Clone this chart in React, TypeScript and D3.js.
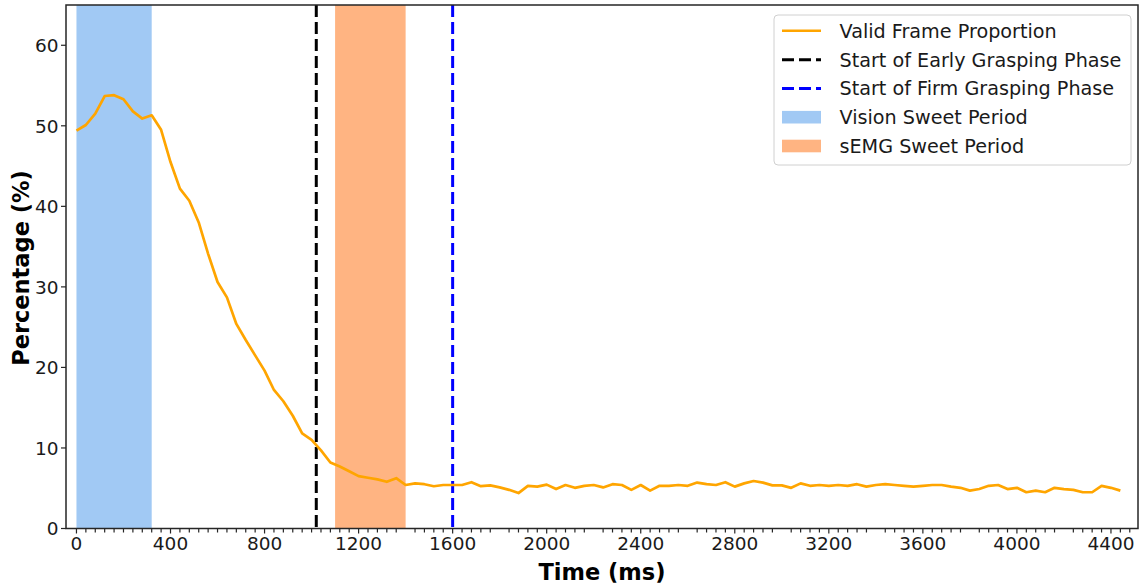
import React from "react";
import * as d3 from "d3";

const timesMs = [
  0, 40, 80, 120, 160, 200, 240, 280, 320, 360,
  400, 440, 480, 520, 560, 600, 640, 680, 720, 760,
  800, 840, 880, 920, 960, 1000, 1040, 1080, 1120, 1160,
  1200, 1240, 1280, 1320, 1360, 1400, 1440, 1480, 1520, 1560,
  1600, 1640, 1680, 1720, 1760, 1800, 1840, 1880, 1920, 1960,
  2000, 2040, 2080, 2120, 2160, 2200, 2240, 2280, 2320, 2360,
  2400, 2440, 2480, 2520, 2560, 2600, 2640, 2680, 2720, 2760,
  2800, 2840, 2880, 2920, 2960, 3000, 3040, 3080, 3120, 3160,
  3200, 3240, 3280, 3320, 3360, 3400, 3440, 3480, 3520, 3560,
  3600, 3640, 3680, 3720, 3760, 3800, 3840, 3880, 3920, 3960,
  4000, 4040, 4080, 4120, 4160, 4200, 4240, 4280, 4320, 4360,
  4400, 4440,
];

const validFrameProportion = [
  49.4, 50.1, 51.5, 53.7, 53.8, 53.3, 51.8, 50.9, 51.3, 49.5,
  45.5, 42.2, 40.7, 38.0, 34.1, 30.6, 28.7, 25.4, 23.4, 21.5,
  19.6, 17.2, 15.8, 14.0, 11.8, 11.0, 9.7, 8.2, 7.7, 7.1,
  6.5, 6.3, 6.1, 5.8, 6.25, 5.4, 5.6, 5.5, 5.25, 5.4,
  5.4, 5.4, 5.75, 5.25, 5.35, 5.1, 4.8, 4.4, 5.3, 5.2,
  5.45, 4.9, 5.4, 5.05, 5.3, 5.4, 5.1, 5.5, 5.4, 4.8,
  5.4, 4.7, 5.3, 5.3, 5.4, 5.3, 5.7, 5.5, 5.4, 5.75,
  5.2, 5.6, 5.9, 5.7, 5.35, 5.35, 5.05, 5.6, 5.3, 5.4,
  5.3, 5.4, 5.3, 5.5, 5.2, 5.4, 5.5, 5.4, 5.3, 5.2,
  5.3, 5.4, 5.4, 5.2, 5.05, 4.7, 4.9, 5.3, 5.4, 4.9,
  5.05, 4.5, 4.7, 4.5, 5.05, 4.9, 4.8, 4.5, 4.5, 5.3,
  5.05, 4.7,
];

const visionSweetPeriod = [0, 320];
const semgSweetPeriod = [1100, 1400];
const earlyGraspStart = 1020;
const firmGraspStart = 1600;

const xMajorTicks = [0, 400, 800, 1200, 1600, 2000, 2400, 2800, 3200, 3600, 4000, 4400];
const xMinorTicks = [
  40, 80, 120, 160, 200, 240, 280, 320, 360,
  440, 480, 520, 560, 600, 640, 680, 720, 760,
  840, 880, 920, 960, 1000, 1040, 1080, 1120, 1160,
  1240, 1280, 1320, 1360, 1440, 1480, 1520, 1560,
  1640, 1680, 1720, 1760, 1840, 1880, 1920, 1960,
  2040, 2080, 2120, 2160, 2240, 2280, 2320, 2360,
  2440, 2480, 2520, 2560, 2640, 2680, 2720, 2760,
  2840, 2880, 2920, 2960, 3040, 3080, 3120, 3160,
  3240, 3280, 3320, 3360, 3440, 3480, 3520, 3560,
  3640, 3680, 3720, 3760, 3840, 3880, 3920, 3960,
  4040, 4080, 4120, 4160, 4240, 4280, 4320, 4360,
  4440, 4480,
];
const yTicks = [0, 10, 20, 30, 40, 50, 60];

const legendItems = [
  { label: "Valid Frame Proportion", kind: "line", color: "#FFA500", dash: "" },
  { label: "Start of Early Grasping Phase", kind: "line", color: "#000000", dash: "12,5" },
  { label: "Start of Firm Grasping Phase", kind: "line", color: "#0000FF", dash: "12,5" },
  { label: "Vision Sweet Period", kind: "patch", color: "#a1c9f4", dash: "" },
  { label: "sEMG Sweet Period", kind: "patch", color: "#ffb482", dash: "" },
];

const W = 1143;
const H = 586;
const LEFT = 66;
const RIGHT = 1138;
const TOP = 5;
const BOTTOM = 528.5;
const FONT = "DejaVu Sans, sans-serif";

export default function App() {
  const x = d3.scaleLinear().domain([-44.5, 4515]).range([LEFT, RIGHT]);
  const y = d3.scaleLinear().domain([0, 65]).range([BOTTOM, TOP]);
  const pts: [number, number][] = timesMs.map((t, i) => [t, validFrameProportion[i]]);
  const line = d3
    .line<[number, number]>()
    .x((d) => x(d[0]))
    .y((d) => y(d[1]));

  const legX = 774;
  const legY = 15;
  const legW = 357;
  const legH = 150;
  const rowY = [30.7, 59.7, 88.4, 117.2, 146];

  return (
    <svg
      width={W}
      height={H}
      style={{ position: "absolute", left: 0, top: 0, background: "#fff" }}
      fontFamily={FONT}
    >
      <defs>
        <clipPath id="plotclip">
          <rect x={LEFT} y={TOP} width={RIGHT - LEFT} height={BOTTOM - TOP} />
        </clipPath>
      </defs>
      <rect x={0} y={0} width={W} height={H} fill="#fff" />
      <g clipPath="url(#plotclip)">
        <rect
          x={x(visionSweetPeriod[0])}
          y={TOP}
          width={x(visionSweetPeriod[1]) - x(visionSweetPeriod[0])}
          height={BOTTOM - TOP}
          fill="#a1c9f4"
        />
        <rect
          x={x(semgSweetPeriod[0])}
          y={TOP}
          width={x(semgSweetPeriod[1]) - x(semgSweetPeriod[0])}
          height={BOTTOM - TOP}
          fill="#ffb482"
        />
        <line
          x1={x(earlyGraspStart)}
          x2={x(earlyGraspStart)}
          y1={TOP}
          y2={BOTTOM}
          stroke="#000"
          strokeWidth={3}
          strokeDasharray="12,5"
        />
        <line
          x1={x(firmGraspStart)}
          x2={x(firmGraspStart)}
          y1={TOP}
          y2={BOTTOM}
          stroke="#0000FF"
          strokeWidth={3}
          strokeDasharray="12,5"
        />
        <path
          d={line(pts) || ""}
          fill="none"
          stroke="#FFA500"
          strokeWidth={2.7}
          strokeLinejoin="round"
        />
      </g>

      {/* frame */}
      <rect
        x={LEFT}
        y={TOP}
        width={RIGHT - LEFT}
        height={BOTTOM - TOP}
        fill="none"
        stroke="#262626"
        strokeWidth={1.5}
      />

      {/* x ticks */}
      {xMinorTicks.map((t) => (
        <line key={"mn" + t} x1={x(t)} x2={x(t)} y1={BOTTOM} y2={BOTTOM + 4} stroke="#262626" strokeWidth={1.2} />
      ))}
      {xMajorTicks.map((t) => (
        <g key={"mj" + t}>
          <line x1={x(t)} x2={x(t)} y1={BOTTOM} y2={BOTTOM + 5} stroke="#262626" strokeWidth={1.2} />
          <text x={x(t)} y={549.5} textAnchor="middle" fontSize={18.5} fill="#1a1a1a">
            {t}
          </text>
        </g>
      ))}

      {/* y ticks */}
      {yTicks.map((v) => (
        <g key={"y" + v}>
          <line x1={LEFT - 5} x2={LEFT} y1={y(v)} y2={y(v)} stroke="#262626" strokeWidth={1.2} />
          <text x={LEFT - 7.5} y={y(v) + 6.7} textAnchor="end" fontSize={18.5} fill="#1a1a1a">
            {v}
          </text>
        </g>
      ))}

      {/* axis labels */}
      <text x={602} y={580} textAnchor="middle" fontSize={22.5} fontWeight="bold" fill="#000">
        Time (ms)
      </text>
      <text
        transform={`translate(29, ${268}) rotate(-90)`}
        textAnchor="middle"
        fontSize={22.5}
        fontWeight="bold"
        fill="#000"
      >
        Percentage (%)
      </text>

      {/* legend */}
      <rect
        x={legX}
        y={legY}
        width={legW}
        height={legH}
        rx={4}
        fill="#fff"
        fillOpacity={0.8}
        stroke="#d0d0d0"
        strokeWidth={1}
      />
      {legendItems.map((it, i) =>
        <g key={it.label}>
          {it.kind === "line" ? (
            <line
              x1={782}
              x2={821}
              y1={rowY[i]}
              y2={rowY[i]}
              stroke={it.color}
              strokeWidth={it.dash ? 3 : 2.5}
              strokeDasharray={it.dash || undefined}
            />
          ) : (
            <rect x={782} y={rowY[i] - 6.3} width={39} height={12.6} fill={it.color} />
          )}
          <text x={839.5} y={rowY[i] + 6.8} fontSize={19.2} fill="#1a1a1a">
            {it.label}
          </text>
        </g>
      )}
    </svg>
  );
}
